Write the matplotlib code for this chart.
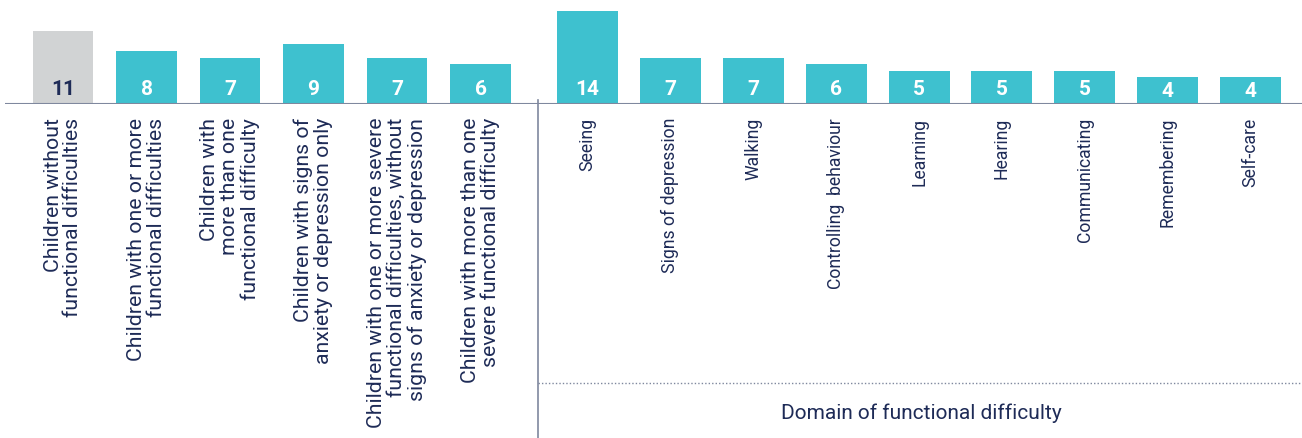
import matplotlib
matplotlib.use('Agg')
import matplotlib.pyplot as plt
import matplotlib.transforms as mtransforms
import numpy as np

plt.rcParams['font.family'] = ['Roboto', 'DejaVu Sans']

# Données
groupes = [
    "Children without\nfunctional difficulties",
    "Children with one or more\nfunctional difficulties",
    "Children with\nmore than one\nfunctional difficulty",
    "Children with signs of\nanxiety or depression only",
    "Children with one or more severe\nfunctional difficulties, without\nsigns of anxiety or depression",
    "Children with more than one\nsevere functional difficulty",
]
valeurs_groupes = [11, 8, 7, 9, 7, 6]

domaines = ["Seeing", "Signs of depression", "Walking", "Controlling  behaviour",
            "Learning", "Hearing", "Communicating", "Remembering", "Self-care"]
valeurs_domaines = [14, 7, 7, 6, 5, 5, 5, 4, 4]

titre_domaines = "Domain of functional difficulty"

# Couleurs
teal = '#3EC1CF'
gris = '#D1D3D4'
marine = '#1E2B57'
ligne = '#7F889E'

W, H = 1302, 438
fig = plt.figure(figsize=(W / 100, H / 100), dpi=100)

# axes : baseline à y=104 px, de x=5 à 1302
ax = fig.add_axes([5 / W, (H - 104) / H, (W - 5) / W, 104 / H])
unite_x = 83.5
x0 = 63
ax.set_xlim(-(x0 - 5) / unite_x, (W - x0) / unite_x)
ax.set_ylim(0, 104 / 6.64)
ax.axis('off')

pos_g = np.arange(len(groupes))
pos_d = 6.28 + np.arange(len(domaines)) * 0.993
largeur = 0.73

couleurs_g = [gris] + [teal] * (len(groupes) - 1)
ax.bar(pos_g, valeurs_groupes, width=largeur, color=couleurs_g, zorder=2)
ax.bar(pos_d, valeurs_domaines, width=largeur, color=teal, zorder=2)

# valeurs dans les barres
for i, (x, v) in enumerate(zip(pos_g, valeurs_groupes)):
    ax.text(x, 2.25, str(v), ha='center', va='center', fontsize=15,
            fontweight='bold', color=marine if i == 0 else 'white', zorder=3)
for x, v in zip(pos_d, valeurs_domaines):
    ax.text(x, 2.25 if v > 4 else 1.95, str(v), ha='center', va='center',
            fontsize=15, fontweight='bold', color='white', zorder=3)

# ligne de base
ax.axhline(0, color=ligne, linewidth=1.5, zorder=4)

trans = mtransforms.blended_transform_factory(ax.transData, fig.transFigure)
y_haut = (H - 118) / H

for x, lab in zip(pos_g, groupes):
    ax.text(x, y_haut, lab, transform=trans, rotation=90, ha='center', va='top',
            multialignment='right', fontsize=15.3, color=marine,
            fontweight='normal', linespacing=1.05)
for x, lab in zip(pos_d, domaines):
    ax.text(x, y_haut, lab, transform=trans, rotation=90, ha='center', va='top',
            fontsize=12.7, color=marine, fontweight='normal')

# séparateur vertical
x_sep = (538 - x0) / unite_x
ax.plot([x_sep, x_sep], [(H - 100) / H, 0], transform=trans, color=ligne,
        linewidth=1.2, clip_on=False)

# ligne pointillée et titre du domaine
ax.plot([x_sep, ax.get_xlim()[1]], [(H - 383) / H] * 2, transform=trans,
        color=ligne, linewidth=1, linestyle=(0, (1, 1.5)), clip_on=False)
x_titre = (921 - x0) / unite_x
ax.text(x_titre, (H - 413) / H, titre_domaines, transform=trans, ha='center',
        va='center', fontsize=15, color=marine)

fig.savefig('out.png', dpi=100, facecolor='white')
plt.close()
